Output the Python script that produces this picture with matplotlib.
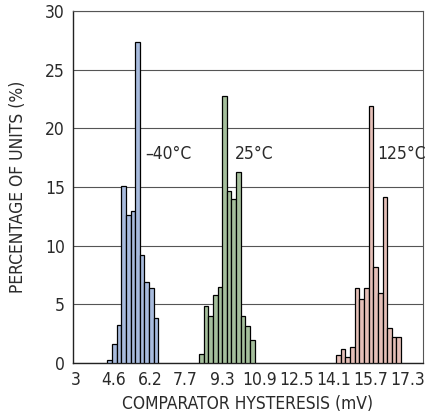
import matplotlib
matplotlib.use("Agg")
import matplotlib.pyplot as plt
import numpy as np

plt.rcParams["font.family"] = ["DejaVu Sans"]
plt.rcParams["font.stretch"] = "condensed"

BIN_WIDTH = 0.2

# -40°C
cold_start = 4.45
cold_pct = [0.25, 1.57, 3.19, 15.09, 12.6, 12.98, 27.4, 9.19, 6.86, 6.35, 3.87]

# 25°C
room_start = 8.40
room_pct = [0.74, 4.84, 4.01, 5.81, 6.49, 22.74, 14.63, 14.0, 16.25, 3.99, 3.16, 1.91]

# 125°C
hot_start = 14.32
hot_pct = [0.65, 1.20, 0.51, 1.37, 6.38, 5.47, 6.35, 21.89, 8.17, 5.98, 14.18, 2.99, 2.22, 2.22]

x_ticks = [3, 4.6, 6.2, 7.7, 9.3, 10.9, 12.5, 14.1, 15.7, 17.3]
x_tick_labels = ["3", "4.6", "6.2", "7.7", "9.3", "10.9", "12.5", "14.1", "15.7", "17.3"]

groups = [
    (cold_start, cold_pct, "#a8bbdd", "\u201340°C", 5.97),
    (room_start, room_pct, "#a5bf9c", "25°C", 9.85),
    (hot_start, hot_pct, "#e5bfb8", "125°C", 16.0),
]

TEXT = "#2a2a2a"

fig = plt.figure(figsize=(4.25, 4.19), dpi=100)
ax = fig.add_axes([0.172, 0.134, 0.823, 0.839])

for start, pct, color, label, label_x in groups:
    centers = start + BIN_WIDTH * np.arange(len(pct))
    ax.bar(centers, pct, width=BIN_WIDTH, color=color, edgecolor="black",
           linewidth=0.9, zorder=3)
    ax.text(label_x, 17.8, label, fontsize=12.5, ha="left", va="center", color=TEXT)

ax.set_xlim(2.87, 17.96)
ax.set_ylim(0, 30)
ax.set_yticks([0, 5, 10, 15, 20, 25, 30])
ax.set_xticks(x_ticks)
ax.set_xticklabels(x_tick_labels)
ax.tick_params(length=0, labelsize=12.5, colors=TEXT, pad=6)
ax.grid(True, axis="y", color="#555555", linewidth=0.8, zorder=0)
for side in ["left", "bottom"]:
    ax.spines[side].set_color("#222222")
    ax.spines[side].set_linewidth(1.0)
for side in ["top", "right"]:
    ax.spines[side].set_color("#555555")
    ax.spines[side].set_linewidth(0.8)

ax.set_xlabel("COMPARATOR HYSTERESIS (mV)", fontsize=12.5, color=TEXT, labelpad=4)
ax.set_ylabel("PERCENTAGE OF UNITS (%)", fontsize=12.5, color=TEXT, labelpad=13)

fig.savefig("out.png", dpi=100)
